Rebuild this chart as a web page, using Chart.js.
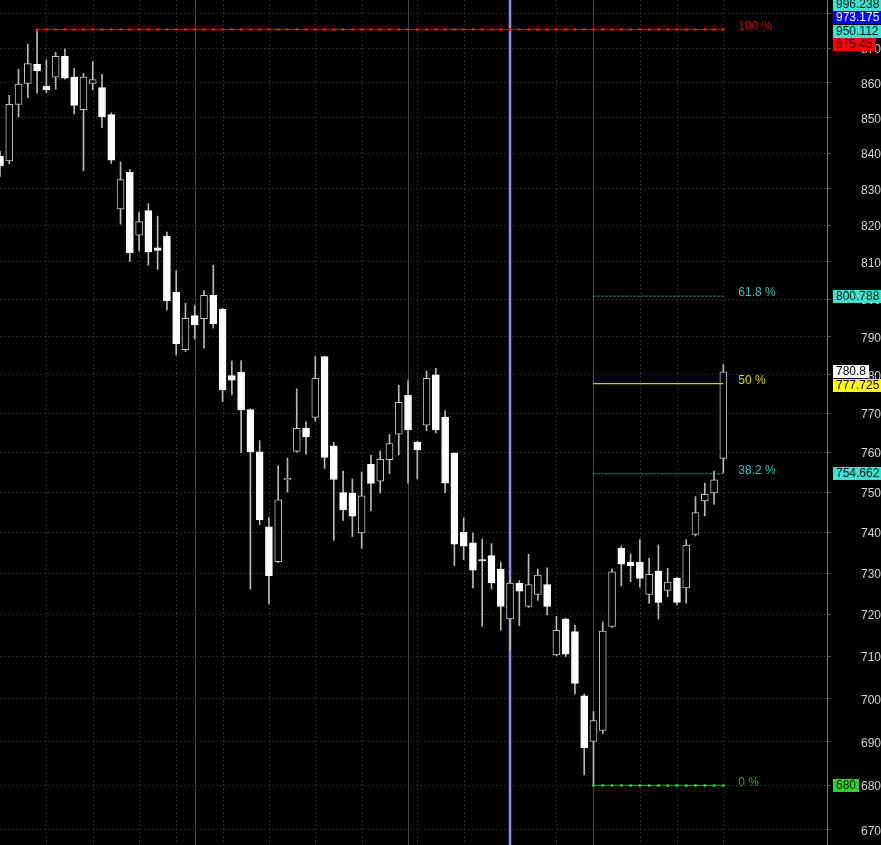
<!DOCTYPE html>
<html>
<head>
<meta charset="utf-8">
<script src="https://cdn.jsdelivr.net/npm/chart.js@4.4.1/dist/chart.umd.min.js"></script>
<style>
  html, body { margin: 0; padding: 0; background: #000; }
  #wrap { position: relative; width: 881px; height: 845px; }
</style>
</head>
<body>
<div id="wrap"><canvas id="priceChart"></canvas></div>
<script>
// OHLC, one entry per session
const opens = [
  839.2, 837.8, 853.8, 859.8, 865.3, 859.0, 861.6, 867.6, 861.6, 852.3,
  859.8, 858.6, 850.9, 824.5, 834.6, 817.3, 824.0, 813.8, 817.0, 801.9,
  786.6, 795.6, 794.8, 801.0, 797.3, 779.8, 780.7, 771.0, 760.2, 741.4,
  732.8, 753.1, 760.3, 766.2, 769.0, 784.8, 761.7, 749.9, 749.8, 739.9,
  757.0, 752.8, 758.2, 764.7, 774.7, 762.6, 767.0, 780.0, 769.0, 759.8,
  740.0, 737.4, 733.3, 734.3, 731.0, 718.9, 727.6, 721.9, 724.8, 727.2,
  710.3, 718.9, 715.9, 700.7, 690.1, 692.6, 717.1, 736.1, 732.7, 732.7,
  724.8, 730.5, 725.8, 728.8, 726.4, 739.5, 747.8, 749.8, 758.5
];
const highs = [
  840.5, 856.4, 863.9, 871.1, 875.45, 866.6, 868.8, 869.7, 864.1, 862.7,
  866.1, 862.4, 851.4, 837.5, 835.4, 823.6, 825.9, 822.5, 818.1, 807.6,
  798.9, 798.3, 802.3, 809.1, 797.6, 783.6, 783.7, 771.2, 763.0, 743.7,
  756.7, 758.6, 776.4, 767.9, 784.8, 784.9, 762.6, 755.3, 753.3, 755.1,
  759.4, 760.4, 764.6, 777.3, 778.5, 762.9, 781.0, 781.7, 770.7, 760.0,
  743.6, 739.9, 738.4, 737.2, 732.7, 728.4, 728.2, 734.6, 731.0, 731.3,
  719.5, 719.1, 717.4, 701.1, 697.0, 718.2, 731.0, 736.7, 734.7, 738.2,
  733.6, 736.9, 731.2, 729.0, 738.2, 748.9, 752.3, 755.3, 782.7
];
const lows = [
  833.5, 837.0, 850.2, 855.7, 857.0, 857.2, 858.1, 861.0, 851.1, 835.1,
  857.9, 847.2, 837.1, 820.3, 810.1, 812.9, 809.1, 808.0, 797.1, 785.2,
  786.1, 789.4, 787.0, 792.3, 773.1, 774.8, 760.0, 726.1, 741.9, 722.5,
  732.6, 750.0, 760.1, 759.6, 768.0, 756.0, 738.0, 743.0, 739.0, 736.1,
  745.4, 749.8, 754.7, 759.4, 752.3, 753.3, 765.6, 765.0, 749.9, 731.8,
  733.3, 726.4, 717.1, 726.1, 716.2, 711.5, 717.3, 721.7, 723.4, 719.9,
  710.1, 709.9, 701.1, 682.4, 680.0, 691.9, 716.9, 726.9, 727.9, 726.6,
  722.7, 718.9, 724.3, 722.3, 722.7, 739.1, 744.1, 747.0, 754.9
];
const closes = [
  836.4, 853.8, 859.6, 865.5, 863.5, 857.9, 867.6, 861.3, 853.5, 861.6,
  860.9, 850.2, 838.0, 832.6, 812.5, 821.0, 812.7, 813.1, 799.5, 788.1,
  794.9, 793.1, 801.0, 793.4, 776.1, 778.6, 770.9, 760.2, 743.1, 729.3,
  748.1, 753.5, 766.2, 764.0, 779.1, 758.8, 753.2, 745.6, 744.0, 749.1,
  752.2, 758.3, 762.3, 772.9, 765.8, 760.7, 779.1, 765.8, 752.3, 737.1,
  736.6, 730.7, 733.0, 727.6, 721.9, 727.6, 725.6, 727.2, 729.5, 721.9,
  716.2, 710.5, 703.6, 688.6, 694.9, 716.0, 730.3, 732.2, 731.8, 728.7,
  729.7, 722.9, 727.8, 722.9, 736.9, 744.9, 749.5, 753.1, 780.8
];

// price axis
const yTicks = [670, 680, 690, 700, 710, 720, 730, 740, 750, 760, 770, 780, 790, 800, 810, 820, 830, 840, 850, 860, 870, 880];

// fibonacci retracement
const fibLevels = [875.45, 800.788, 777.725, 754.662, 680];
const fibLabels = ["100 %", "61.8 %", "50 %", "38.2 %", "0 %"];
const fibFrom = [4, 64, 64, 64, 64];
const fibTo = 78;

// price tags on the right edge
const tagValues = [996.238, 973.175, 950.112, 875.45, 800.788, 780.8, 777.725, 754.662, 680];
const tagText = ["996.238", "973.175", "950.112", "875.45", "800.788", "780.8", "777.725", "754.662", "680"];

// session separators
const weekSeps = [5, 10, 15, 19, 24, 29, 34, 39, 45, 50, 60, 69, 73, 78];
const monthSeps = [21, 44, 64];
const markerIdx = 55;

const FONT = '"Liberation Sans", Arial, sans-serif';
const fibColors = ["#dc0000", "#38c0b4", "#d4d400", "#38c0b4", "#22a822"];
const tagBg = ["#40e0d0", "#0000ff", "#40e0d0", "#ff0000", "#40e0d0", "#ffffff", "#ffff00", "#40e0d0", "#33cc33"];
const tagFg = ["#0a1a1a", "#ffffff", "#0a1a1a", "#300000", "#0a1a1a", "#000000", "#000000", "#0a1a1a", "#002200"];

document.addEventListener("DOMContentLoaded", function () {
  const idx = opens.map((_, i) => i);
  const isUp = idx.map((i) => closes[i] > opens[i]);

  const wickData = idx.map((i) => ({ x: i, y: [lows[i], highs[i]] }));
  const bodyData = idx.map((i) => ({ x: i, y: [opens[i], closes[i]] }));

  function levelPoints(level, from) {
    const pts = [];
    for (let i = from; i <= fibTo; i++) pts.push({ x: i, y: level });
    return pts;
  }

  const fibSets = fibLevels.map((lv, k) => ({
    type: "line",
    data: levelPoints(lv, fibFrom[k]),
    borderColor: fibColors[k],
    borderWidth: k === 2 ? 1.2 : 1,
    borderDash: k === 1 || k === 3 ? [2, 2] : [],
    pointRadius: k === 0 || k === 4 ? 1.5 : 0,
    pointHoverRadius: 0,
    pointBackgroundColor: k === 0 ? "#ff1010" : "#30d030",
    pointBorderWidth: 0,
    order: 0,
  }));

  const separators = {
    id: "separators",
    beforeDatasetsDraw(chart) {
      const { ctx, chartArea: a, scales } = chart;
      const x = scales.x;
      ctx.save();
      ctx.lineWidth = 1;
      ctx.strokeStyle = "#2a2a2a";
      ctx.setLineDash([2, 2]);
      weekSeps.forEach((i) => {
        const px = Math.round(x.getPixelForValue(i)) + 0.5;
        ctx.beginPath();
        ctx.moveTo(px, a.top);
        ctx.lineTo(px, a.bottom);
        ctx.stroke();
      });
      ctx.setLineDash([]);
      ctx.strokeStyle = "#444444";
      monthSeps.forEach((i) => {
        const px = Math.round(x.getPixelForValue(i)) + 0.5;
        ctx.beginPath();
        ctx.moveTo(px, a.top);
        ctx.lineTo(px, a.bottom);
        ctx.stroke();
      });
      // marker line
      ctx.strokeStyle = "#8c8ce0";
      ctx.lineWidth = 2.5;
      const mx = x.getPixelForValue(markerIdx);
      ctx.beginPath();
      ctx.moveTo(mx, a.top);
      ctx.lineTo(mx, a.bottom);
      ctx.stroke();
      ctx.restore();
    },
  };

  const fibText = {
    id: "fibText",
    afterDatasetsDraw(chart) {
      const { ctx, scales } = chart;
      const tx = scales.x.getPixelForValue(fibTo) + 15;
      ctx.save();
      ctx.font = "12px " + FONT;
      ctx.textBaseline = "middle";
      ctx.textAlign = "left";
      fibLevels.forEach((lv, k) => {
        ctx.fillStyle = fibColors[k];
        ctx.fillText(fibLabels[k], tx, scales.y.getPixelForValue(lv) - 3);
      });
      ctx.restore();
    },
  };

  const priceTags = {
    id: "priceTags",
    afterDraw(chart) {
      const { ctx } = chart;
      const y = chart.scales.y;
      const left = y.left + 6;
      ctx.save();
      ctx.font = "12px " + FONT;
      ctx.textBaseline = "middle";
      ctx.textAlign = "left";
      const items = tagValues.map((v, k) => ({ k, py: y.getPixelForValue(v) }));
      items.sort((a, b) => a.py - b.py);
      let prev = -Infinity;
      items.forEach((it) => {
        const cy = Math.max(it.py, 4.5, prev + 13.3);
        prev = cy;
        const w = ctx.measureText(tagText[it.k]).width + 6;
        ctx.fillStyle = tagBg[it.k];
        ctx.fillRect(left, Math.round(cy - 6.5), w, 13);
        ctx.fillStyle = tagFg[it.k];
        ctx.fillText(tagText[it.k], left + 3, Math.round(cy - 6.5) + 7);
      });
      ctx.restore();
    },
  };

  new Chart(document.getElementById("priceChart"), {
    type: "bar",
    data: {
      datasets: [
        {
          label: "wick",
          data: wickData,
          backgroundColor: "#b8b8b8",
          barThickness: 1,
          grouped: false,
          order: 3,
        },
        {
          label: "body",
          data: bodyData,
          backgroundColor: isUp.map((u) => (u ? "#000000" : "#ffffff")),
          borderColor: isUp.map((u) => (u ? "#c4c4c4" : "#ffffff")),
          borderWidth: 1,
          borderSkipped: false,
          barThickness: 7,
          grouped: false,
          order: 2,
        },
        ...fibSets,
      ],
    },
    options: {
      responsive: true,
      maintainAspectRatio: false,
      animation: false,
      layout: { padding: 0, autoPadding: false },
      plugins: {
        legend: { display: false },
        tooltip: { enabled: false },
      },
      scales: {
        x: {
          type: "linear",
          display: false,
          offset: false,
          min: 0,
          max: 89.18,
        },
        y: {
          type: "logarithmic",
          position: "right",
          min: 666.6,
          max: 884.1,
          afterBuildTicks: (s) => {
            s.ticks = yTicks.map((v) => ({ value: v }));
          },
          afterFit: (s) => {
            s.width = 54;
            s.paddingTop = 0;
            s.paddingBottom = 0;
          },
          ticks: {
            autoSkip: false,
            color: "#d4d4d4",
            font: { family: FONT, size: 12 },
            padding: 27,
            labelOffset: 1.5,
            crossAlign: "far",
            callback: (v) => String(v),
          },
          grid: {
            color: "#262626",
            tickColor: "#555555",
            tickLength: 4,
          },
          border: { display: true, color: "#7a7a7a", dash: [2, 2] },
        },
      },
    },
    plugins: [separators, fibText, priceTags],
  });
});
</script>
</body>
</html>
